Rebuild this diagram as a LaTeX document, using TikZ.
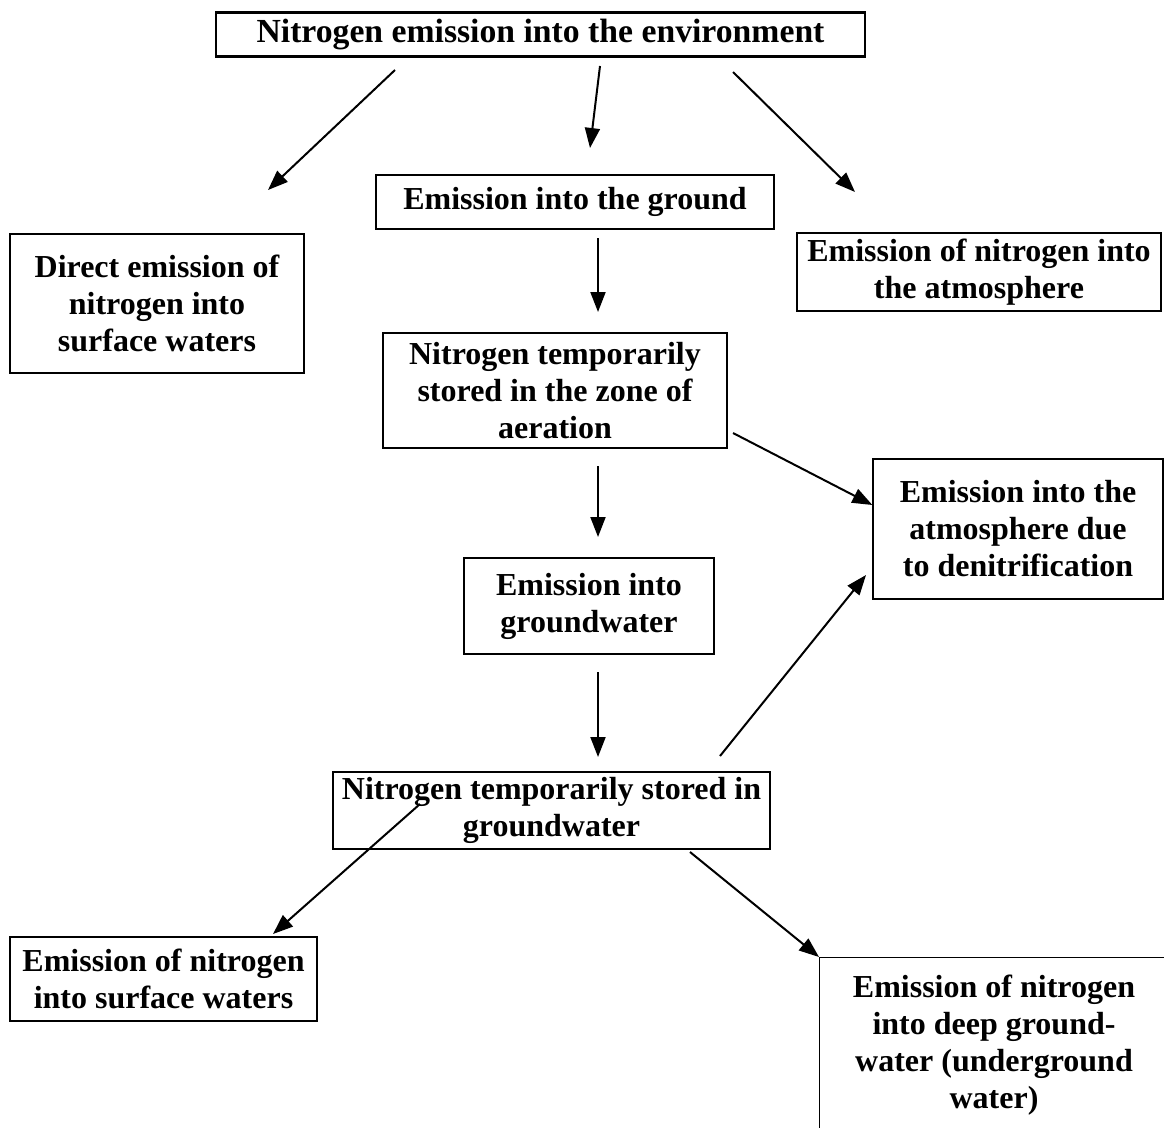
\documentclass[tikz,border=0pt]{standalone}
\usepackage{fontspec}
\setmainfont{Liberation Serif}
\usetikzlibrary{arrows.meta}
\begin{document}
\begin{tikzpicture}[x=1pt,y=-1pt,
  box/.style={draw,line width=1.3pt,rectangle,inner sep=0pt,align=center,
    font=\fontsize{32}{37}\selectfont\bfseries},
  arr/.style={line width=2pt,-{Triangle[length=20pt,width=15pt]}}]
\useasboundingbox (0,0) rectangle (1164,1127);
% boxes: centre, width, height
\node[box,line width=2.4pt,minimum width=649pt,minimum height=44pt,font=\fontsize{33.7}{37}\selectfont\bfseries] (top) at (540.5,34.5) {Nitrogen emission into the environment};
\node[box,minimum width=398pt,minimum height=54pt] (ground) at (575,202) {Emission into the ground};
\node[box,minimum width=294pt,minimum height=139pt] (direct) at (157,303.5) {Direct emission of\\nitrogen into\\surface waters};
\node[box,minimum width=364pt,minimum height=78pt] (atmo) at (979,272) {Emission of nitrogen into\\the atmosphere};
\node[box,minimum width=344pt,minimum height=115pt] (aer) at (555,390.5) {Nitrogen temporarily\\stored in the zone of\\aeration};
\node[box,minimum width=290pt,minimum height=140pt] (deni) at (1018,529) {Emission into the\\atmosphere due\\to denitrification};
\node[box,minimum width=250pt,minimum height=96pt] (gw) at (589,606) {Emission into\\groundwater};
\node[box,minimum width=437pt,minimum height=77pt] (stored) at (551.5,810.5) {Nitrogen temporarily stored in\\groundwater};
\node[box,minimum width=307pt,minimum height=84pt] (surf) at (163.5,979) {Emission of nitrogen\\into surface waters};
\node[box,minimum width=350pt,minimum height=180pt,anchor=north west] (deep) at (819,957) {};
\node[font=\fontsize{32}{37}\selectfont\bfseries,align=center,inner sep=0pt] (deeptext) at (994,1045) {Emission of nitrogen\\into deep ground-\\water (underground\\water)};
% connector end points
\coordinate (s1) at (395,70);  \coordinate (e1) at (268,190);
\coordinate (s2) at (600,66);  \coordinate (e2) at (590,148);
\coordinate (s3) at (733,72);  \coordinate (e3) at (855,192);
\coordinate (s4) at (598,238); \coordinate (e4) at (598,312);
\coordinate (s5) at (733,433); \coordinate (e5) at (deni.west |- 0,505);
\coordinate (s6) at (598,466); \coordinate (e6) at (598,537);
\coordinate (s7) at (598,672); \coordinate (e7) at (598,757);
\coordinate (s8) at (720,756); \coordinate (e8) at (866,575);
\coordinate (s9) at (420,804); \coordinate (e9) at (273,934);
\coordinate (s10) at (690,852); \coordinate (e10) at (deep.north west);
\draw[arr] (s1) -- (e1);
\draw[arr] (s2) -- (e2);
\draw[arr] (s3) -- (e3);
\draw[arr] (s4) -- (e4);
\draw[arr] (s5) -- (e5);
\draw[arr] (s6) -- (e6);
\draw[arr] (s7) -- (e7);
\draw[arr] (s8) -- (e8);
\draw[arr] (s9) -- (e9);
\draw[arr] (s10) -- (e10);
\end{tikzpicture}
\end{document}
